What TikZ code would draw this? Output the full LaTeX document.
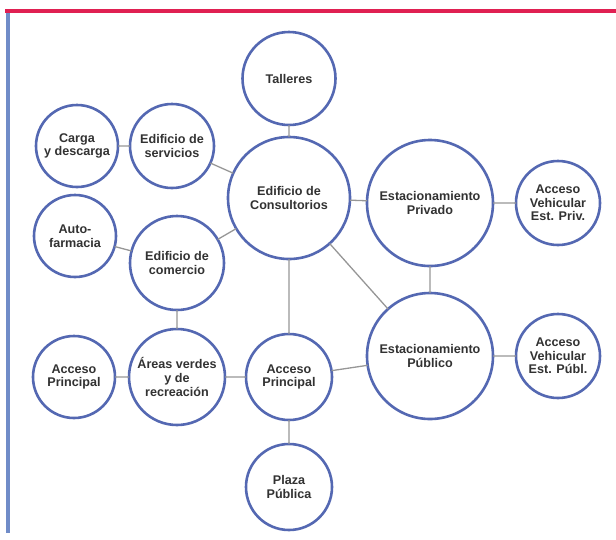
\documentclass[tikz,border=0pt]{standalone}
\usepackage{fontspec}
\setmainfont{Liberation Sans}
\usetikzlibrary{positioning}
\definecolor{circblue}{RGB}{84,104,178}
\definecolor{linkgray}{RGB}{150,150,150}
\definecolor{txtgray}{RGB}{50,50,50}
\definecolor{topred}{RGB}{224,32,82}
\definecolor{sideblue}{RGB}{112,140,200}
\tikzset{
	zone/.style={draw=circblue,
	line width=2.6pt,
	circle,
	inner sep=0pt,
	outer sep=0pt,
	fill=white,
	align=center,
	text=txtgray,
	font=\fontsize{12.6}{13.6}\selectfont\bfseries},
	link/.style={draw=linkgray, line width=1.3pt}
}
\begin{document}
\begin{tikzpicture}[x=1pt, y=-1pt]
	\useasboundingbox (0,0) rectangle (616,539);
	% frame
	\draw[topred, line width=4pt] (5,11) -- (616,11);
	\draw[sideblue, line width=4pt] (8,13) -- (8,533);
	% central nodes
	\node[zone, minimum size=122pt] (consult) at (289,198) {Edificio de\\Consultorios};
	\node[zone, minimum size=93pt, above=12pt of consult] (talleres) {Talleres};
	\node[zone, minimum size=86pt, below=75pt of consult] (accprin) {Acceso\\Principal};
	\node[zone, minimum size=86pt, below=24pt of accprin] (plaza) {Plaza\\Pública};
	\node[zone, minimum size=96pt, left=21pt of accprin] (verdes) {Áreas verdes\\y de\\recreación};
	\node[zone, minimum size=82pt, left=14pt of verdes] (accizq) {Acceso\\Principal};
	\node[zone, minimum size=94pt, above=19pt of verdes] (comercio) {Edificio de\\comercio};
	\node[zone, minimum size=82pt] (autofarm) at (75,236) {Auto-\\farmacia};
	\node[zone, minimum size=84pt] (servicios) at (172,146) {Edificio de\\servicios};
	\node[zone, minimum size=82pt, left=12pt of servicios] (carga) {Carga\\y descarga};
	% parking
	\node[zone, minimum size=126pt] (estpriv) at (430,203) {Estacionamiento\\Privado};
	\node[zone, minimum size=126pt, below=27pt of estpriv] (estpub) {Estacionamiento\\Público};
	\node[zone, minimum size=84pt, right=23pt of estpriv] (vehpriv) {Acceso\\Vehicular\\Est. Priv.};
	\node[zone, minimum size=84pt, right=23pt of estpub] (vehpub) {Acceso\\Vehicular\\Est. Públ.};
	% connectors
	\path[link] (talleres) -- (consult)
	(carga) -- (servicios)
	(servicios) -- (consult)
	(autofarm) -- (comercio)
	(comercio) -- (consult)
	(consult) -- (estpriv)
	(consult) -- (accprin)
	(consult) -- (estpub)
	(estpriv) -- (vehpriv)
	(estpriv) -- (estpub)
	(estpub) -- (vehpub)
	(accprin) -- (estpub)
	(comercio) -- (verdes)
	(accizq) -- (verdes)
	(verdes) -- (accprin)
	(accprin) -- (plaza);
\end{tikzpicture}
\end{document}
